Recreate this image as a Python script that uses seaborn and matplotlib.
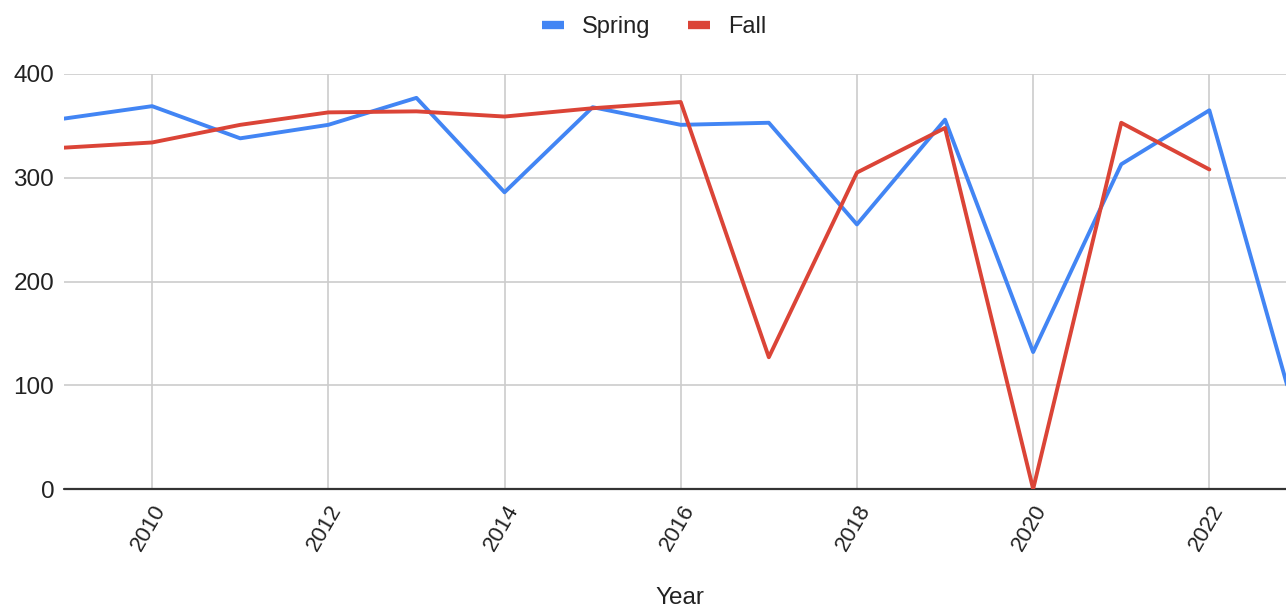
import matplotlib
matplotlib.use("Agg")
import matplotlib.pyplot as plt
from matplotlib.lines import Line2D
import numpy as np
import pandas as pd
import seaborn as sns

years = [2009, 2010, 2011, 2012, 2013, 2014, 2015, 2016,
         2017, 2018, 2019, 2020, 2021, 2022, 2023]
spring = [357, 369, 338, 351, 377, 286, 368, 351,
          353, 255, 356, 132, 313, 365, 65]
fall = [329, 334, 351, 363, 364, 359, 367, 373,
        127, 305, 348, 0, 353, 308, None]
series_names = ["Spring", "Fall"]
colors = {"Spring": "#4285F4", "Fall": "#DB4437"}
y_ticks = [0, 100, 200, 300, 400]
x_ticks = [2010, 2012, 2014, 2016, 2018, 2020, 2022]

df = pd.DataFrame({
    "Year": years * 2,
    "Value": spring + fall,
    "Season": ["Spring"] * len(years) + ["Fall"] * len(years),
}).dropna()

sns.set_theme(style="white")
plt.rcParams["font.family"] = ["Liberation Sans", "DejaVu Sans"]

FS = 17.5
TXT = "#222222"

fig = plt.figure(figsize=(12.86, 6.08), dpi=100)
ax = fig.add_axes([64 / 1286, 1 - 489 / 608, 1 - 64 / 1286, (489 - 74) / 608])

sns.lineplot(data=df, x="Year", y="Value", hue="Season", hue_order=series_names,
             palette=colors, linewidth=2.8, ax=ax, legend=False, zorder=3)

ax.set_xlim(2009, 2022.87)
ax.set_ylim(0, 400)
ax.set_yticks(y_ticks)
ax.set_xticks(x_ticks)
ax.set_xticklabels([str(x) for x in x_ticks], rotation=60, ha="right",
                   rotation_mode="anchor", fontsize=16, color=TXT)
ax.set_yticklabels([str(v) for v in y_ticks], fontsize=FS, color=TXT)
ax.tick_params(axis="both", length=0)
ax.tick_params(axis="x", pad=9)
ax.tick_params(axis="y", pad=7)

ax.grid(True, color="#cccccc", linewidth=1.2, zorder=0)
ax.set_axisbelow(True)
for side in ["top", "right", "left", "bottom"]:
    ax.spines[side].set_visible(False)
ax.axhline(0, color="#333333", linewidth=1.6, zorder=2, clip_on=False)

ax.set_xlabel("Year", fontsize=FS, color=TXT, va="center")
ax.set_ylabel("")
ax.xaxis.set_label_coords((680 - 64) / (1286 - 64), -(598 - 489) / (489 - 74))

handles = [Line2D([0], [0], color=colors[n], linewidth=6, solid_capstyle="butt")
           for n in series_names]
fig.legend(handles, series_names, loc="center", bbox_to_anchor=(654 / 1286, 1 - 27 / 608),
           ncol=2, frameon=False, fontsize=17, handlelength=0.95,
           handletextpad=0.75, columnspacing=1.6, labelcolor=TXT)

fig.savefig("out.png", dpi=100)
